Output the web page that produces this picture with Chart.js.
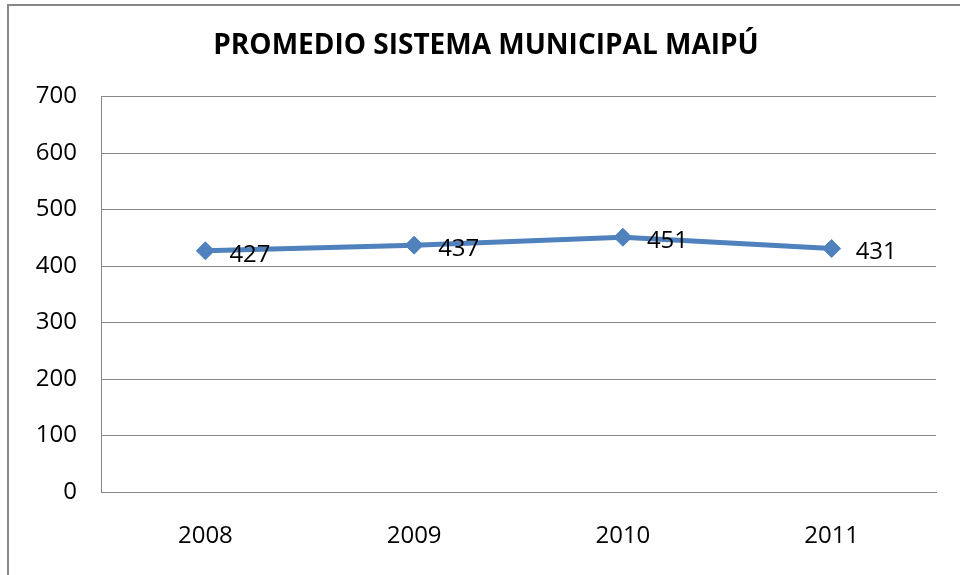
<!DOCTYPE html>
<html>
<head>
<meta charset="utf-8">
<script src="https://cdn.jsdelivr.net/npm/chart.js@4/dist/chart.umd.min.js"></script>
<style>
  html, body { margin: 0; padding: 0; background: #fff; }
  #wrap { width: 960px; height: 575px; position: relative; }
</style>
</head>
<body>
<div id="wrap"><canvas id="c" width="960" height="575"></canvas></div>
<script>
const categories = ['2008', '2009', '2010', '2011'];
const promedio = [427, 437, 451, 431];
const yTicks = [0, 100, 200, 300, 400, 500, 600, 700];
const chartTitle = 'PROMEDIO SISTEMA MUNICIPAL MAIPÚ';

const FONT = "'Open Sans', 'Liberation Sans', sans-serif";
const BLUE = '#4F81BD';
const GRID = '#888888';

const framePlugin = {
  id: 'frame',
  beforeDraw(chart) {
    const ctx = chart.ctx;
    ctx.save();
    ctx.fillStyle = '#ffffff';
    ctx.fillRect(0, 0, chart.width, chart.height);
    ctx.strokeStyle = GRID;
    ctx.lineWidth = 2;
    ctx.strokeRect(8, 5, 1200, 1200);
    ctx.restore();
  }
};

const labelPlugin = {
  id: 'pointLabels',
  afterDatasetsDraw(chart) {
    const ctx = chart.ctx;
    const meta = chart.getDatasetMeta(0);
    const data = chart.data.datasets[0].data;
    ctx.save();
    ctx.font = '24px ' + FONT;
    ctx.fillStyle = '#000';
    ctx.textAlign = 'left';
    ctx.textBaseline = 'middle';
    meta.data.forEach((pt, i) => {
      ctx.fillText(String(data[i]), pt.x + 24, pt.y + 4);
    });
    ctx.restore();
  }
};

new Chart(document.getElementById('c'), {
  type: 'line',
  data: {
    labels: categories,
    datasets: [{
      data: promedio,
      borderColor: BLUE,
      backgroundColor: BLUE,
      borderWidth: 5,
      pointStyle: 'rectRot',
      pointRadius: 9,
      pointHoverRadius: 9,
      pointBackgroundColor: BLUE,
      pointBorderColor: BLUE,
      pointBorderWidth: 1,
      tension: 0,
      clip: false
    }]
  },
  options: {
    responsive: false,
    animation: false,
    devicePixelRatio: 1,
    layout: { padding: { left: 36, right: 24, top: 0, bottom: 0 } },
    plugins: {
      legend: { display: false },
      tooltip: { enabled: false },
      title: {
        display: true,
        text: chartTitle,
        color: '#000',
        font: { family: FONT, size: 28, weight: 'bold' },
        padding: { top: 29, bottom: 34 }
      }
    },
    scales: {
      x: {
        type: 'category',
        offset: true,
        grid: { display: false, drawTicks: false },
        border: { display: true, color: GRID, width: 1 },
        ticks: { color: '#000', font: { family: FONT, size: 24 }, padding: 30, maxRotation: 0 },
        afterFit(scale) { scale.height = 83; }
      },
      y: {
        min: 0,
        max: 700,
        afterBuildTicks(scale) { scale.ticks = yTicks.map(v => ({ value: v })); },
        grid: { color: GRID, lineWidth: 1, drawTicks: false },
        border: { display: true, color: GRID, width: 1 },
        ticks: { color: '#000', font: { family: FONT, size: 24 }, padding: 24 },
        afterFit(scale) { scale.width = 65; }
      }
    }
  },
  plugins: [framePlugin, labelPlugin]
});
</script>
</body>
</html>
